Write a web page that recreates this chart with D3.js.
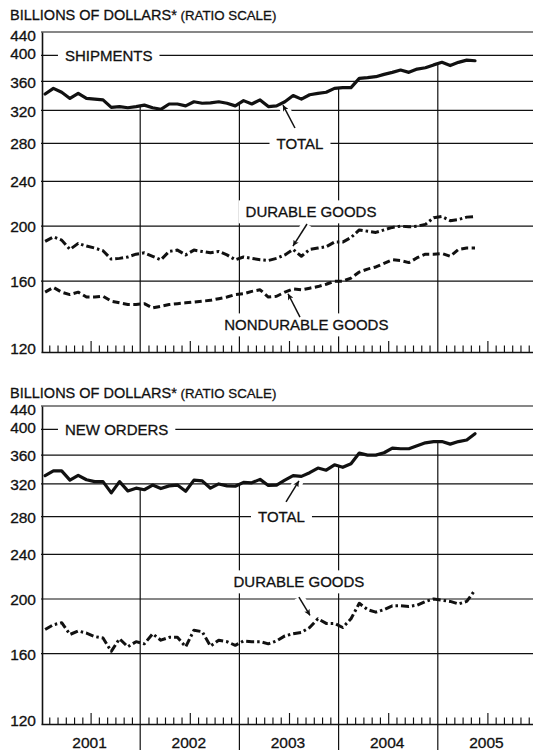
<!DOCTYPE html>
<html><head><meta charset="utf-8">
<script src="https://cdn.jsdelivr.net/npm/d3@7"></script>
<style>
body{margin:0;background:#fff}
svg{display:block}
text{font-family:"Liberation Sans",Arial,sans-serif;fill:#111;stroke:#111;stroke-width:0.3px}
</style>
</head><body>
<svg id="c" width="533" height="750"></svg>
<script>
// ---------- data ----------
const years = ["2001","2002","2003","2004","2005"];
const yTickValues = [120,160,200,240,280,320,360,400,440];
const titleMain = "BILLIONS OF DOLLARS*";
const titleSub = " (RATIO SCALE)";
// monthly values, Jan 2001 .. May 2005
const shipTotal = [342,350,344.5,336,343,336,335,334,324,325,323.5,325,327,323.5,321.5,328.5,328.5,326,331.5,329.5,330,331.5,329.5,326,333,328.5,334,325,326,331.5,340,335,341,343,344.5,350,351,351,364.5,365.5,367,370.5,373.5,377,373.5,378.5,380.5,385,389,384,389,392.5,391.5];
const shipDurable = [188,191.5,189,182,186.5,184.5,183,181,175,175.5,176.5,178.5,179.5,177,174.5,180.5,181.5,178,181.5,180.5,179.5,180.5,178,174.5,176.5,175.5,174.5,174,175.5,178,182,177,182,183,184,187.5,187.5,191,197,196,195,197,199,200,199.5,200,201.5,207,208,204.5,205.5,207.5,208];
const shipNondurable = [153,156,153,151.5,153,150,150,150.5,147.5,146.5,145.5,145.5,146,143.5,144.5,145.5,146,146.5,147,147.5,148,149,150,151.5,152,153.5,154.5,150,150.5,153,155,154.5,155.5,156.5,158,160,160,162,166,168,169.5,172,174.5,174,172.5,176,178.5,178.5,179,177,182,183,183];
const ordersTotal = [331,337.5,337.5,325,331.5,325.5,323,323,308.5,323,311,314.5,312.5,318.5,314,317.5,318.5,310.5,325,324,314.5,320,317.5,317,322,321.5,326,318,318.5,325,331,330,335,341.5,338.5,346,342.5,347.5,363,360,360,363.5,370.5,369.5,369.5,374,378.5,380.5,380.5,376.5,380.5,383,393];
const ordersDurable = [176.5,180,181.5,173,175.5,174,171.5,170.5,161.5,170,164.5,168,166.5,173.5,169,171,171,164.5,176,175,165,169,168,165.5,168.5,168,168,166.5,168.5,172,173.5,174.5,178,184.5,181,181,178,184.5,196.5,191.5,189.5,191.5,194.5,194.5,194,195,198,200,199,198,196,198,207.5];
// annotations, in data space (month index, value)
const shipLabels = [
  {text:"SHIPMENTS", m:2.9, v:400, anchor:"start"},
  {text:"TOTAL", m:31.33, v:280, anchor:"middle"},
  {text:"DURABLE GOODS", m:32.66, v:211.9, anchor:"middle"},
  {text:"NONDURABLE GOODS", m:32.1, v:133.9, anchor:"middle"}
];
const shipArrows = [
  {m1:30.72, v1:298, m2:29.27, v2:327},
  {m1:32.18, v1:201.8, m2:30.48, v2:184.5},
  {m1:31.33, v1:138.3, m2:29.88, v2:152}
];
const orderLabels = [
  {text:"NEW ORDERS", m:2.9, v:400, anchor:"start"},
  {text:"TOTAL", m:29.09, v:280, anchor:"middle"},
  {text:"DURABLE GOODS", m:31.2, v:214.4, anchor:"middle"}
];
const orderArrows = [
  {m1:29.64, v1:297.3, m2:31.2, v2:324},
  {m1:31.2, v1:201.6, m2:32.54, v2:187}
];

// ---------- drawing ----------
const W = 533;
const svg = d3.select("#c");
const nMonths = years.length * 12;
const x = d3.scaleLinear().domain([0, nMonths]).range([41, 537]);

const defs = svg.append("defs");
defs.append("marker").attr("id","ah").attr("viewBox","0 0 10 10")
  .attr("refX",10).attr("refY",5).attr("markerUnits","userSpaceOnUse")
  .attr("markerWidth",8).attr("markerHeight",6).attr("orient","auto")
  .append("path").attr("d","M0,0 L10,5 L0,10 L2.5,5 z").attr("fill","#111");

function panel(o, idx) {
  const y = d3.scaleLog().domain([120, 440]).range([o.bottom, o.top]);
  const g = svg.append("g");
  const gGrid = g.append("g"), gMask = g.append("g"), gData = g.append("g"), gAnno = g.append("g");

  // title
  const t = gGrid.append("text").attr("x", 10).attr("y", o.titleY);
  t.append("tspan").attr("font-size", 14.5).text(titleMain);
  t.append("tspan").attr("font-size", 13.3).text(titleSub);

  // horizontal grid
  gGrid.selectAll("line.grid").data(yTickValues.filter(v => v > 120)).join("line")
    .attr("class","grid")
    .attr("x1", x(0)).attr("x2", W).attr("y1", d => y(d)).attr("y2", d => y(d))
    .attr("stroke", "#111").attr("stroke-width", 1.2);

  // left axis with labels
  const ax = gGrid.append("g").attr("transform", `translate(${x(0)+1},0)`)
    .call(d3.axisLeft(y).tickValues(yTickValues).tickFormat(d3.format("d")).tickSize(0).tickSizeOuter(0).tickPadding(6));
  ax.select(".domain").attr("stroke", "#111").attr("stroke-width", 1.6);
  ax.selectAll("text").attr("font-size", 15.5).attr("font-family", '"Liberation Sans", Arial, sans-serif')
    .attr("fill", "#111")
    .attr("dy", d => d === 440 ? "0.55em" : d === 120 ? "0.1em" : d === 400 ? "0.22em" : "0.36em");

  // bottom axis with month ticks
  const monthTicks = d3.range(1, nMonths + 1).filter(m => m % 12 !== 0);
  const bx = gGrid.append("g").attr("transform", `translate(0,${o.bottom})`)
    .call(d3.axisBottom(x).tickValues(monthTicks).tickFormat("").tickSize(-6).tickSizeOuter(0));
  bx.select(".domain").attr("stroke", "#111").attr("stroke-width", 1.6);
  bx.selectAll(".tick line").attr("stroke", "#111").attr("stroke-width", 1.15)
    .attr("y2", d => d % 12 === 6 ? -11 : -6.5);

  // vertical year lines, running up to the total line
  const clipId = "clip" + idx;
  const area = d3.area().x((d, i) => x(i + 0.5)).y0(o.bottom).y1(d => y(d));
  defs.append("clipPath").attr("id", clipId).append("path").attr("d", area(o.total));
  const yearBounds = d3.range(1, years.length).map(i => i * 12);
  gGrid.append("g").attr("clip-path", `url(#${clipId})`)
    .selectAll("line").data(yearBounds).join("line")
    .attr("x1", d => x(d)).attr("x2", d => x(d)).attr("y1", o.bottom).attr("y2", o.top)
    .attr("stroke", "#111").attr("stroke-width", 1.2);

  if (o.yearLabels) {
    gGrid.selectAll("line.ext").data(yearBounds).join("line").attr("class","ext")
      .attr("x1", d => x(d)).attr("x2", d => x(d)).attr("y1", o.bottom).attr("y2", 750)
      .attr("stroke", "#111").attr("stroke-width", 1.2);
    gGrid.selectAll("text.yr").data(years).join("text").attr("class","yr")
      .attr("x", (d, i) => x(i * 12 + 6) - 1).attr("y", o.bottom + 23.5)
      .attr("text-anchor", "middle").attr("font-size", 15.5).text(d => d);
  }

  // arrows (halo first)
  o.arrows.forEach(a => {
    gMask.append("line").attr("x1", x(a.m1)).attr("y1", y(a.v1)).attr("x2", x(a.m2)).attr("y2", y(a.v2))
      .attr("stroke", "#fff").attr("stroke-width", 10);
    gAnno.append("line").attr("x1", x(a.m1)).attr("y1", y(a.v1)).attr("x2", x(a.m2)).attr("y2", y(a.v2))
      .attr("stroke", "#111").attr("stroke-width", 1.5).attr("marker-end", "url(#ah)");
  });

  // labels with white background
  o.labels.forEach(l => {
    const tx = gAnno.append("text").attr("x", x(l.m)).attr("y", y(l.v)).attr("dy", "0.36em")
      .attr("text-anchor", l.anchor).attr("font-size", 15).text(l.text);
    const b = tx.node().getBBox();
    gMask.append("rect").attr("x", b.x - 7).attr("y", b.y - 3).attr("width", b.width + 14).attr("height", b.height + 6)
      .attr("fill", "#fff");
  });

  // data lines
  const line = d3.line().x((d, i) => x(i + 0.5)).y(d => y(d));
  o.series.forEach(s => {
    gData.append("path").attr("d", line(s.values)).attr("fill", "none")
      .attr("stroke", "#111").attr("stroke-width", s.w).attr("stroke-linejoin", "round")
      .attr("stroke-linecap", s.dash ? "butt" : "round")
      .attr("stroke-dasharray", s.dash || null);
  });
}

panel({top: 32, bottom: 352, titleY: 20, total: shipTotal, yearLabels: false,
  series: [
    {values: shipTotal, w: 3.2},
    {values: shipDurable, w: 3, dash: "8,3,2.5,3"},
    {values: shipNondurable, w: 3, dash: "7,3.5"}
  ],
  labels: shipLabels, arrows: shipArrows}, 0);

panel({top: 406, bottom: 724, titleY: 398, total: ordersTotal, yearLabels: true,
  series: [
    {values: ordersTotal, w: 3.2},
    {values: ordersDurable, w: 3, dash: "8,3,2.5,3"}
  ],
  labels: orderLabels, arrows: orderArrows}, 1);
</script>
</body></html>
